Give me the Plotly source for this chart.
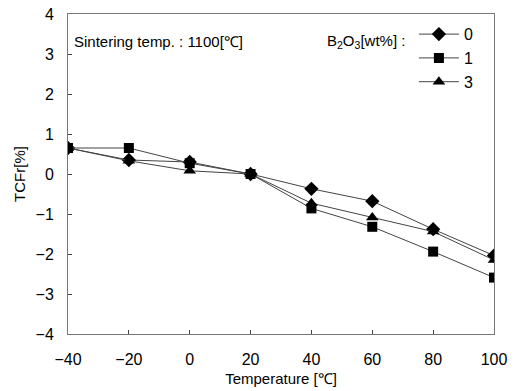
import plotly.graph_objects as go

temps = [-40, -20, 0, 20, 40, 60, 80, 100]
b0 = [0.65, 0.35, 0.30, 0.0, -0.37, -0.68, -1.38, -2.04]
b1 = [0.65, 0.65, 0.27, 0.0, -0.86, -1.32, -1.94, -2.59]
b3 = [0.65, 0.33, 0.08, 0.0, -0.73, -1.09, -1.44, -2.15]
names = ["0", "1", "3"]
symbols = ["diamond", "square", "triangle-up"]

fig = go.Figure()
for vals, nm, sym in zip([b0, b1, b3], names, symbols):
    fig.add_trace(go.Scatter(
        x=temps, y=vals, name=nm, mode="lines+markers",
        line=dict(color="#444444", width=1),
        marker=dict(symbol=sym, size=11 if sym != "square" else 10, color="black"),
    ))

font = "Liberation Sans, Arial, sans-serif"
fig.update_layout(
    width=519, height=391,
    margin=dict(l=68, r=25, t=14, b=57),
    paper_bgcolor="white", plot_bgcolor="white",
    font=dict(family=font, size=16, color="black"),
    showlegend=True,
    legend=dict(x=0.812, y=0.99, xanchor="left", yanchor="top",
                bgcolor="rgba(0,0,0,0)", font=dict(size=16),
                tracegroupgap=0, itemwidth=40),
    xaxis=dict(range=[-40, 100], tickvals=temps, ticks="inside", ticklen=4,
               showline=True, linecolor="#777777", linewidth=1, mirror=True,
               showgrid=False, zeroline=False, ticklabelstandoff=11,
               tickfont=dict(size=16), automargin=False,
               title=dict(text="Temperature [℃]", font=dict(size=15), standoff=6)),
    yaxis=dict(range=[-4, 4], tickvals=[-4, -3, -2, -1, 0, 1, 2, 3, 4], ticks="inside", ticklen=4,
               showline=True, linecolor="#777777", linewidth=1, mirror=True,
               showgrid=False, zeroline=False, tickformat="d", ticklabelstandoff=10,
               tickfont=dict(size=16), automargin=False,
               title=dict(text="TCFr[%]", font=dict(size=15), standoff=6)),
    annotations=[
        dict(text="Sintering temp. : 1100[℃]", x=0.01, y=0.915, xref="paper", yref="paper",
             xanchor="left", yanchor="middle", showarrow=False, font=dict(size=15)),
        dict(text="B<sub>2</sub>O<sub>3</sub>[wt%] :", x=0.795, y=0.915, xref="paper", yref="paper",
             xanchor="right", yanchor="middle", showarrow=False, font=dict(size=15)),
    ],
)
fig.write_html("out.html")
